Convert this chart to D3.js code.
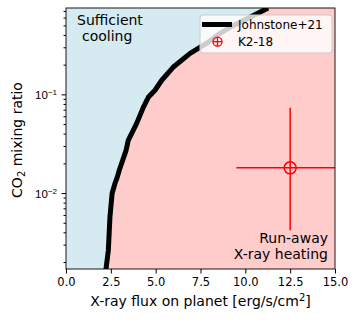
<!DOCTYPE html>
<html>
<head>
<meta charset="utf-8">
<script src="https://cdn.jsdelivr.net/npm/d3@7"></script>
<style>
  body { margin: 0; background: #fff; }
  svg { display: block; font-family: "DejaVu Sans", sans-serif; }
</style>
</head>
<body>
<svg id="chart" width="357" height="320"></svg>
<script>
// Johnstone+21 boundary (x-ray flux vs CO2 mixing ratio)
const curveFlux = [2.23, 2.36, 2.45, 2.57, 2.73, 2.86, 2.97, 3.35, 3.47, 3.94, 4.31, 4.59, 4.96, 5.34, 5.97, 6.92, 7.85, 8.59, 9.15, 11.27];
const curveCO2 = [0.0017, 0.00262, 0.0057, 0.0099, 0.0125, 0.0145, 0.017, 0.0271, 0.0342, 0.0508, 0.0738, 0.0933, 0.11, 0.139, 0.188, 0.26, 0.33, 0.415, 0.478, 0.75];

// K2-18 point
const k2Flux = [12.5];
const k2FluxErr = [3.0];
const k2CO2 = [0.018];
const k2CO2Low = [0.0042];
const k2CO2High = [0.073];

const xTicks = [0, 2.5, 5, 7.5, 10, 12.5, 15];
const yMajor = [0.01, 0.1];
const yMinor = [0.002, 0.003, 0.004, 0.005, 0.006, 0.007, 0.008, 0.009,
                0.02, 0.03, 0.04, 0.05, 0.06, 0.07, 0.08, 0.09,
                0.2, 0.3, 0.4, 0.5, 0.6, 0.7];

const margin = {left: 66, right: 22, top: 8, bottom: 51};
const width = 357, height = 320;

const svg = d3.select('#chart');

const x = d3.scaleLinear().domain([0, 15]).range([margin.left, width - margin.right]);
const y = d3.scaleLog().domain([0.0017, 0.75]).range([height - margin.bottom, margin.top]);

svg.append('clipPath').attr('id', 'clip')
  .append('rect')
  .attr('x', x(0)).attr('y', y(0.75))
  .attr('width', x(15) - x(0)).attr('height', y(0.0017) - y(0.75));

const plot = svg.append('g').attr('clip-path', 'url(#clip)');

const curve = curveFlux.map((f, i) => ({flux: f, co2: curveCO2[i]}));

// regions
plot.append('rect')
  .attr('x', x(0)).attr('y', y(0.75))
  .attr('width', x(15) - x(0)).attr('height', y(0.0017) - y(0.75))
  .attr('fill', '#ffcccc');

plot.append('path')
  .datum(curve)
  .attr('fill', '#d6ebf1')
  .attr('d', d3.area().y(d => y(d.co2)).x0(x(0)).x1(d => x(d.flux)));

plot.append('path')
  .datum(curve)
  .attr('fill', 'none')
  .attr('stroke', '#000')
  .attr('stroke-width', 5)
  .attr('stroke-linejoin', 'round')
  .attr('d', d3.line().x(d => x(d.flux)).y(d => y(d.co2)));

// K2-18 with error bars
k2Flux.forEach((f, i) => {
  plot.append('line')
    .attr('x1', x(f - k2FluxErr[i])).attr('x2', x(f + k2FluxErr[i]))
    .attr('y1', y(k2CO2[i])).attr('y2', y(k2CO2[i]))
    .attr('stroke', 'red').attr('stroke-width', 1.5);
  plot.append('line')
    .attr('x1', x(f)).attr('x2', x(f))
    .attr('y1', y(k2CO2Low[i])).attr('y2', y(k2CO2High[i]))
    .attr('stroke', 'red').attr('stroke-width', 1.5);
  plot.append('circle')
    .attr('cx', x(f)).attr('cy', y(k2CO2[i])).attr('r', 6)
    .attr('fill', 'none').attr('stroke', 'red').attr('stroke-width', 1.5);
});

// annotations
const ann1 = svg.append('text').attr('font-size', 14).attr('fill', '#000');
ann1.append('tspan').attr('x', 77).attr('y', 25).text('Sufficient');
ann1.append('tspan').attr('x', 82).attr('y', 41).text('cooling');

const ann2 = svg.append('text').attr('font-size', 14).attr('fill', '#000').attr('text-anchor', 'end');
ann2.append('tspan').attr('x', 328).attr('y', 243).text('Run-away');
ann2.append('tspan').attr('x', 328).attr('y', 259).text('X-ray heating');

// axes
const xAxis = svg.append('g')
  .attr('transform', `translate(0,${height - margin.bottom})`)
  .call(d3.axisBottom(x).tickValues(xTicks).tickFormat(d3.format('.1f')).tickSize(4.5).tickPadding(4));
xAxis.select('.domain').remove();
xAxis.selectAll('text').attr('font-size', 11.5).attr('font-family', 'DejaVu Sans').attr('fill', '#000');

const yAxis = svg.append('g')
  .attr('transform', `translate(${margin.left},0)`)
  .call(d3.axisLeft(y).tickValues(yMajor).tickFormat(() => '').tickSize(4.5));
yAxis.select('.domain').remove();

svg.append('g')
  .attr('transform', `translate(${margin.left},0)`)
  .call(d3.axisLeft(y).tickValues(yMinor).tickFormat(() => '').tickSize(2.5))
  .select('.domain').remove();

yAxis.selectAll('.tick').each(function(d) {
  const t = d3.select(this).append('text')
    .attr('x', -9).attr('dy', '0.35em')
    .attr('text-anchor', 'end')
    .attr('font-size', 11.5).attr('fill', '#000');
  t.append('tspan').text('10');
  t.append('tspan').attr('font-size', 8).attr('dy', '-0.45em')
    .text('\u2212' + Math.round(-Math.log10(d)));
});

// frame
svg.append('rect')
  .attr('x', x(0)).attr('y', y(0.75))
  .attr('width', x(15) - x(0)).attr('height', y(0.0017) - y(0.75))
  .attr('fill', 'none').attr('stroke', '#000').attr('stroke-width', 0.9);

// axis labels
const xl = svg.append('text')
  .attr('x', (x(0) + x(15)) / 2).attr('y', 306)
  .attr('text-anchor', 'middle').attr('font-size', 14).attr('fill', '#000');
xl.append('tspan').text('X-ray flux on planet [erg/s/cm');
xl.append('tspan').attr('font-size', 10).attr('dy', '-0.5em').text('2');
xl.append('tspan').attr('dy', '0.35em').text(']');

const yl = svg.append('text')
  .attr('transform', 'translate(22,140) rotate(-90)')
  .attr('text-anchor', 'middle').attr('font-size', 14).attr('fill', '#000');
yl.append('tspan').text('CO');
yl.append('tspan').attr('font-size', 10).attr('dy', '0.25em').text('2');
yl.append('tspan').attr('dy', '-0.18em').text(' mixing ratio');

// legend
const lg = svg.append('g');
lg.append('rect')
  .attr('x', 200).attr('y', 15).attr('width', 132).attr('height', 38).attr('rx', 3)
  .attr('fill', '#fff').attr('fill-opacity', 0.8)
  .attr('stroke', '#ccc').attr('stroke-width', 1);
lg.append('line')
  .attr('x1', 202).attr('x2', 232).attr('y1', 24.5).attr('y2', 24.5)
  .attr('stroke', '#000').attr('stroke-width', 5);
lg.append('text').attr('x', 238).attr('y', 29).attr('font-size', 12).attr('fill', '#000').text('Johnstone+21');
lg.append('circle').attr('cx', 217.5).attr('cy', 41.7).attr('r', 4.5)
  .attr('fill', 'none').attr('stroke', 'red').attr('stroke-width', 1.3);
lg.append('line').attr('x1', 213).attr('x2', 222).attr('y1', 41.7).attr('y2', 41.7)
  .attr('stroke', 'red').attr('stroke-width', 1.3);
lg.append('line').attr('x1', 217.5).attr('x2', 217.5).attr('y1', 37.2).attr('y2', 46.2)
  .attr('stroke', 'red').attr('stroke-width', 1.3);
lg.append('text').attr('x', 238).attr('y', 46).attr('font-size', 12).attr('fill', '#000').text('K2-18');
</script>
</body>
</html>
